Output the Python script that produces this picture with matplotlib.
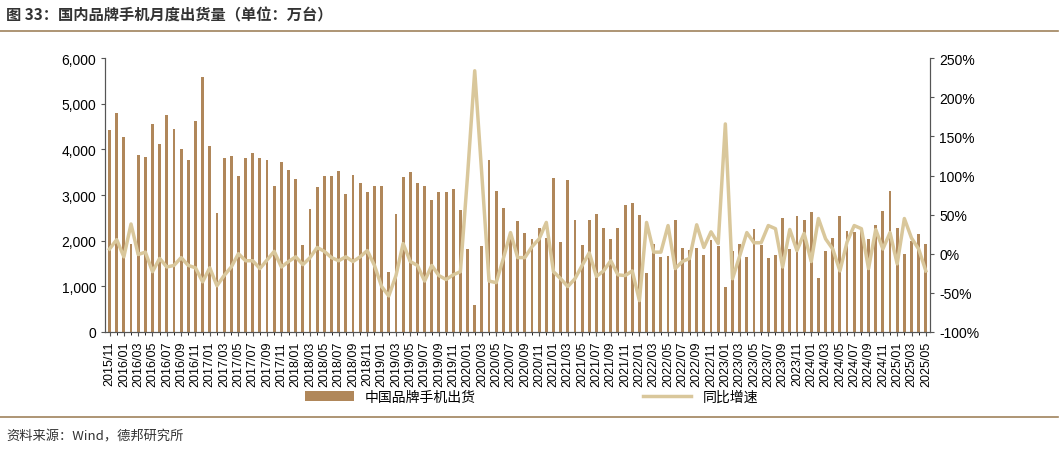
import numpy as np
import pandas as pd
import matplotlib.pyplot as plt
from matplotlib.ticker import FuncFormatter

plt.rcParams['font.family'] = ['Liberation Sans', 'Noto Sans CJK SC', 'DejaVu Sans']

months = pd.period_range('2015-11', '2025-05', freq='M')
labels = [m.strftime('%Y/%m') for m in months]

shipments = [
    4420, 4790,
    4270, 1925, 3870, 3830, 4550, 4110, 4750, 4460, 4000, 3780, 4620, 5600,
    4070, 2600, 3810, 3850, 3420, 3810, 3920, 3810, 3780, 3190, 3720, 3560,
    3350, 1900, 2690, 3170, 3410, 3410, 3520, 3020, 3440, 3260, 3060, 3210,
    3210, 1310, 2580, 3390, 3500, 3260, 3190, 2890, 3060, 3060, 3130, 2670,
    1820, 600, 1880, 3780, 3090, 2720, 2150, 2440, 2170, 2035, 2275, 2055,
    3370, 1970, 3330, 2460, 1910, 2450, 2580, 2270, 2030, 2270, 2790, 2830,
    2560, 1290, 1925, 1640, 1660, 2450, 1840, 1800, 1840, 1690, 2010, 1890,
    985, 1770, 1925, 1640, 2250, 1900, 1620, 1690, 2490, 1815, 2540, 2450,
    2630, 1180, 1770, 2055, 2540, 2210, 2190, 2250, 2035, 2340, 2650, 3085,
    2275, 1710, 1990, 2145, 1925,
]
yoy = [
    6, 18,
    -4, 38, -1, 2, -23, -6, -17, -15, -5, -15, -18, -36,
    -18, -41, -28, -17, 0, -9, -9, -19, -8, 3, -17, -10,
    -4, -14, -5, 8, 3, -5, -9, -4, -10, -4, 4, -15,
    -42, -54, -28, 13, -10, -15, -35, -15, -28, -33, -27, -23,
    100, 234, 100, -35, -37, -6, 27, -5, -5, 9, 19, 40,
    -23, -32, -42, -32, -15, 1, -29, -22, -9, -27, -28, -22,
    -60, 40, 2, 2, 36, -19, -10, -6, 37, 8, 28, 13,
    166, -32, -3, 27, 14, 14, 36, 32, -17, 31, 4, 26,
    -10, 45, 19, 6, -22, 15, 36, 32, -19, 31, 6, 27,
    -13, 45, 20, 6, -22,
]

bar_color = '#B0875A'
line_color = '#D9C79B'
rule_color = '#A0835C'

fig = plt.figure(figsize=(10.63, 4.56), dpi=100)
ax = fig.add_axes([0.099, 0.27, 0.776, 0.60])
ax2 = ax.twinx()

x = np.arange(len(labels))
b = ax.bar(x, shipments, width=0.4, color=bar_color)
l, = ax2.plot(x, yoy, color=line_color, lw=2.5)

ax.set_ylim(0, 6000)
ax.set_yticks(range(0, 6001, 1000))
ax.yaxis.set_major_formatter(FuncFormatter(lambda v, p: f'{int(v):,}'))
ax2.set_ylim(-100, 250)
ax2.set_yticks(range(-100, 251, 50))
ax2.yaxis.set_major_formatter(FuncFormatter(lambda v, p: f'{int(v)}%'))
ax.set_xlim(-0.6, len(x) - 0.4)
ax.set_xticks(x[::2])
ax.set_xticklabels(labels[::2], rotation=90)
ax.set_xticks(x, minor=True)

for a in (ax, ax2):
    a.spines['top'].set_visible(False)
    a.tick_params(labelsize=10, length=3, color='#555555')
    for s in ('left', 'right', 'bottom'):
        a.spines[s].set_color('#555555')
ax.tick_params(axis='x', labelsize=9)
ax.tick_params(axis='x', which='minor', length=2)

fig.legend([b, l], ['中国品牌手机出货', '同比增速'], loc='center', ncol=2,
           bbox_to_anchor=(0.5, 0.127), frameon=False, fontsize=10,
           columnspacing=12, handlelength=3.5,
           prop={'family': ['Noto Sans CJK SC'], 'size': 10})

fig.text(0.006, 0.965, '图 33：国内品牌手机月度出货量（单位：万台）', fontsize=11,
         fontweight='bold', color='#333333', va='center', family=['Noto Sans CJK SC'])
fig.add_artist(plt.Line2D([0.0, 0.995], [0.93, 0.93], color=rule_color, lw=1.2))
fig.add_artist(plt.Line2D([0.0, 0.995], [0.083, 0.083], color=rule_color, lw=1.2))
fig.text(0.006, 0.042, '资料来源：Wind，德邦研究所', fontsize=9.5, color='#333333',
         va='center', family=['Noto Sans CJK SC'])

fig.savefig('out.png', dpi=100)
